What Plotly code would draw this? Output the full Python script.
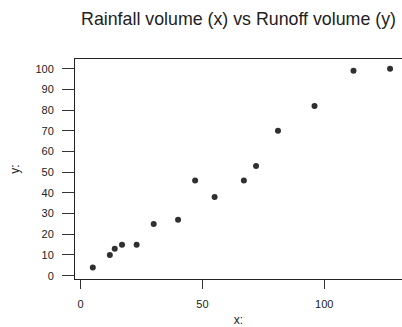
import plotly.graph_objects as go

rainfall = [5, 12, 14, 17, 23, 30, 40, 47, 55, 67, 72, 81, 96, 112, 127]
runoff = [4, 10, 13, 15, 15, 25, 27, 46, 38, 46, 53, 70, 82, 99, 100]
x_ticks = [0, 50, 100]
y_ticks = [0, 10, 20, 30, 40, 50, 60, 70, 80, 90, 100]
title_text = "Rainfall volume (x) vs Runoff volume (y)"

FONT = "Liberation Sans, Arial, sans-serif"

fig = go.Figure(go.Scatter(
    x=rainfall, y=runoff, mode="markers",
    marker=dict(size=6, color="#303030", line=dict(width=0)),
))

fig.update_layout(
    width=402, height=327,
    margin=dict(l=75, r=0, t=59, b=48),
    paper_bgcolor="white", plot_bgcolor="white",
    font=dict(family=FONT, size=11, color="#222"),
    showlegend=False,
    title=dict(text=title_text, x=0.5, xref="paper", y=1 - 19 / 327, yref="container",
               xanchor="center", yanchor="middle", font=dict(size=17.8, color="#222")),
)
fig.update_xaxes(
    range=[-2.3, 131.9], tickvals=x_ticks, showgrid=False, zeroline=False,
    showline=True, mirror=True, linecolor="#222", linewidth=1,
    ticks="outside", ticklen=9, tickcolor="#333", tickwidth=1,
    ticklabelstandoff=6,
    title=dict(text="x:", standoff=20, font=dict(size=12)), automargin=False,
)
fig.update_yaxes(
    range=[-1.6, 104.7], tickvals=y_ticks, showgrid=False, zeroline=False,
    showline=True, mirror=False, linecolor="#222", linewidth=1,
    ticks="outside", ticklen=12, tickcolor="#333", tickwidth=1,
    ticklabelstandoff=6,
    title=dict(text="y:", standoff=13, font=dict(size=12)), automargin=False,
)

fig.write_html(
    "out.html",
    config={"displayModeBar": False},
    post_script="document.body.style.margin='0';document.body.style.overflow='hidden';",
)
